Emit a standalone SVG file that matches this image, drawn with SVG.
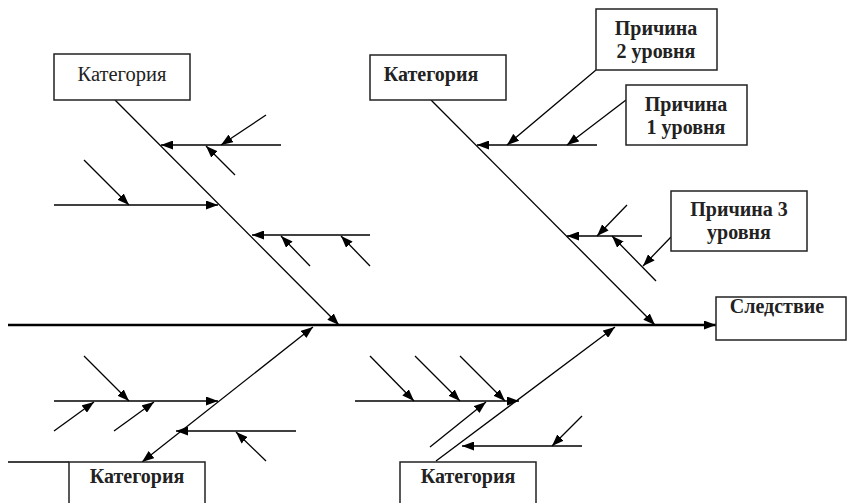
<svg xmlns="http://www.w3.org/2000/svg" width="847" height="503" viewBox="0 0 847 503">
<defs>
<marker id="ah" markerUnits="userSpaceOnUse" markerWidth="13" markerHeight="9" refX="12" refY="4.5" orient="auto"><path d="M0,0 L12,4.5 L0,9 z" fill="#000"/></marker>
<marker id="ahs" markerUnits="userSpaceOnUse" markerWidth="13" markerHeight="9" refX="12" refY="4.5" orient="auto-start-reverse"><path d="M0,0 L12,4.5 L0,9 z" fill="#000"/></marker>
<style>
.box{fill:#fff;stroke:#222;stroke-width:1.5}
.t{font-family:"Liberation Serif","Times New Roman",serif;font-size:20px;font-weight:bold;fill:#222;text-anchor:middle}
.tr{font-family:"Liberation Serif","Times New Roman",serif;font-size:20.5px;fill:#222;text-anchor:middle}
#connectors line{stroke:#000;stroke-width:1.3;marker-end:url(#ah)}
#connectors line.plain{marker-end:none}
#connectors line.main{stroke-width:2.5}
</style>
</defs>
<rect width="847" height="503" fill="#fff"/>
<g id="connectors">
<line class="main" x1="8" y1="325" x2="716" y2="325"/>
<line x1="115" y1="100" x2="339" y2="325"/>
<line x1="281" y1="145" x2="161" y2="145"/>
<line x1="266" y1="115" x2="221" y2="145"/>
<line x1="235" y1="175" x2="206" y2="146"/>
<line x1="54" y1="205" x2="218" y2="205"/>
<line x1="84" y1="160" x2="129" y2="205"/>
<line x1="370" y1="235" x2="252" y2="235"/>
<line x1="310" y1="266" x2="281" y2="236"/>
<line x1="370" y1="266" x2="341" y2="236"/>
<line x1="431" y1="100" x2="655" y2="325"/>
<line x1="597" y1="145" x2="477" y2="145"/>
<line x1="596" y1="70" x2="507" y2="145"/>
<line x1="626" y1="100" x2="567" y2="145"/>
<line x1="642" y1="236" x2="567" y2="236"/>
<line x1="627" y1="205" x2="597" y2="236"/>
<line x1="656" y1="281" x2="612" y2="236"/>
<line x1="671" y1="237" x2="643" y2="266"/>
<line x1="142" y1="462" x2="313" y2="327" style="marker-start:url(#ahs)"/>
<line x1="54" y1="401" x2="218" y2="401"/>
<line x1="84" y1="356" x2="129" y2="401"/>
<line x1="54" y1="431" x2="94" y2="402"/>
<line x1="114" y1="431" x2="154" y2="402"/>
<line x1="296" y1="431" x2="176" y2="431"/>
<line x1="266" y1="461" x2="236" y2="432"/>
<line class="plain" x1="8" y1="462" x2="69" y2="462"/>
<line x1="436" y1="461" x2="615" y2="327"/>
<line x1="355" y1="401" x2="519" y2="401"/>
<line x1="370" y1="356" x2="414" y2="401"/>
<line x1="415" y1="356" x2="460" y2="401"/>
<line x1="460" y1="356" x2="505" y2="401"/>
<line x1="430" y1="447" x2="486" y2="402"/>
<line x1="582" y1="446" x2="462" y2="446"/>
<line x1="582" y1="416" x2="552" y2="446"/>
</g>
<g id="cat-ul"><rect class="box" x="54" y="54" width="136" height="46"/><text class="tr" x="122" y="81">Категория</text></g>
<g id="cat-ur"><rect class="box" x="370" y="55" width="136" height="45"/><text class="t" x="431" y="81">Категория</text></g>
<g id="cause2"><rect class="box" x="596" y="9" width="121" height="61"/><text class="t" x="656" y="35">Причина</text><text class="t" x="656" y="58">2 уровня</text></g>
<g id="cause1"><rect class="box" x="626" y="85" width="121" height="60"/><text class="t" x="686" y="111">Причина</text><text class="t" x="686" y="134">1 уровня</text></g>
<g id="cause3"><rect class="box" x="671" y="191" width="136" height="60"/><text class="t" x="739" y="216">Причина 3</text><text class="t" x="739" y="239">уровня</text></g>
<g id="effect"><rect class="box" x="716" y="297" width="130" height="43"/><text class="t" x="777" y="313">Следствие</text></g>
<g id="cat-ll"><rect class="box" x="69" y="462" width="136" height="50"/><text class="t" x="137" y="483">Категория</text></g>
<g id="cat-lr"><rect class="box" x="400" y="462" width="136" height="50"/><text class="t" x="468" y="483">Категория</text></g>
</svg>
